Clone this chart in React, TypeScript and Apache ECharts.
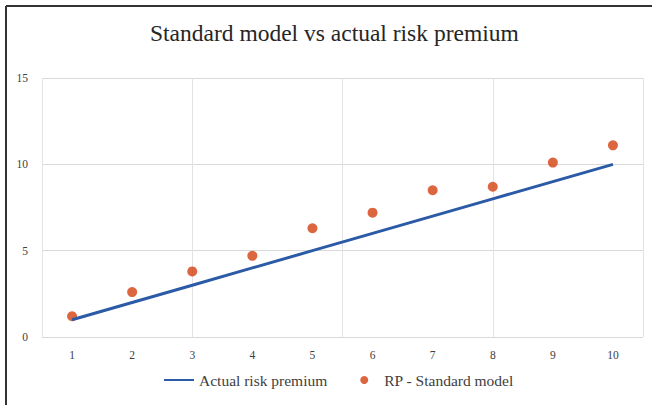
import React, { useEffect, useRef } from "react";
import * as echarts from "echarts";

const categories = ["1", "2", "3", "4", "5", "6", "7", "8", "9", "10"];
const actualRiskPremium = [1, 2, 3, 4, 5, 6, 7, 8, 9, 10];
const standardModel = [1.2, 2.6, 3.8, 4.7, 6.3, 7.2, 8.5, 8.7, 10.1, 11.1];

export default function App() {
  const ref = useRef<HTMLDivElement>(null);
  useEffect(() => {
    if (!ref.current) return;
    const chart = echarts.init(ref.current, undefined, { renderer: "svg" });
    const font = "'Liberation Serif', 'Times New Roman', serif";
    chart.setOption({
      animation: false,
      backgroundColor: "#ffffff",
      textStyle: { fontFamily: font },
      title: {
        text: "Standard model vs actual risk premium",
        left: 150,
        top: 21,
        padding: 0,
        textStyle: { fontFamily: font, fontSize: 23.5, fontWeight: "normal", color: "#262626" },
      },
      graphic: [
        { type: "line", shape: { x1: 6, y1: 6, x2: 652, y2: 6 }, style: { stroke: "#333", lineWidth: 2 } },
        { type: "line", shape: { x1: 6, y1: 6, x2: 6, y2: 405 }, style: { stroke: "#333", lineWidth: 2 } },
      ],
      grid: { left: 42, right: 9, top: 78, bottom: 68 },
      legend: {
        bottom: 12,
        left: 158,
        itemWidth: 30,
        itemHeight: 8,
        itemGap: 33,
        textStyle: { fontFamily: font, fontSize: 15.5, color: "#404040" },
        data: [
          { name: "Actual risk premium", itemStyle: { opacity: 0 } },
          { name: "RP - Standard model" },
        ],
      },
      xAxis: [
        {
          type: "category",
          data: categories,
          boundaryGap: true,
          axisLine: { show: false },
          axisTick: { show: false },
          splitLine: { show: false },
          axisLabel: { fontFamily: font, fontSize: 11.5, color: "#404040", margin: 12 },
        },
        {
          type: "value",
          min: 0.5,
          max: 10.5,
          interval: 2.5,
          show: true,
          axisLine: { show: false },
          axisTick: { show: false },
          axisLabel: { show: false },
          splitLine: { show: true, lineStyle: { color: "#e3e3e3", width: 1 } },
        },
      ],
      yAxis: {
        type: "value",
        min: 0,
        max: 15,
        interval: 5,
        axisLine: { show: false },
        axisTick: { show: false },
        axisLabel: { fontFamily: font, fontSize: 11.5, color: "#404040", margin: 14 },
        splitLine: { lineStyle: { color: "#d9d9d9", width: 1 } },
      },
      series: [
        {
          name: "Actual risk premium",
          type: "line",
          data: actualRiskPremium,
          symbol: "none",
          lineStyle: { color: "#2b5aa6", width: 3 },
          itemStyle: { color: "#2b5aa6" },
        },
        {
          name: "RP - Standard model",
          type: "scatter",
          data: standardModel,
          symbol: "circle",
          symbolSize: 10,
          itemStyle: { color: "#d3400f" },
        },
      ],
    });
    return () => chart.dispose();
  }, []);
  return <div ref={ref} style={{ width: 652, height: 405, position: "absolute", left: 0, top: 0 }} />;
}
